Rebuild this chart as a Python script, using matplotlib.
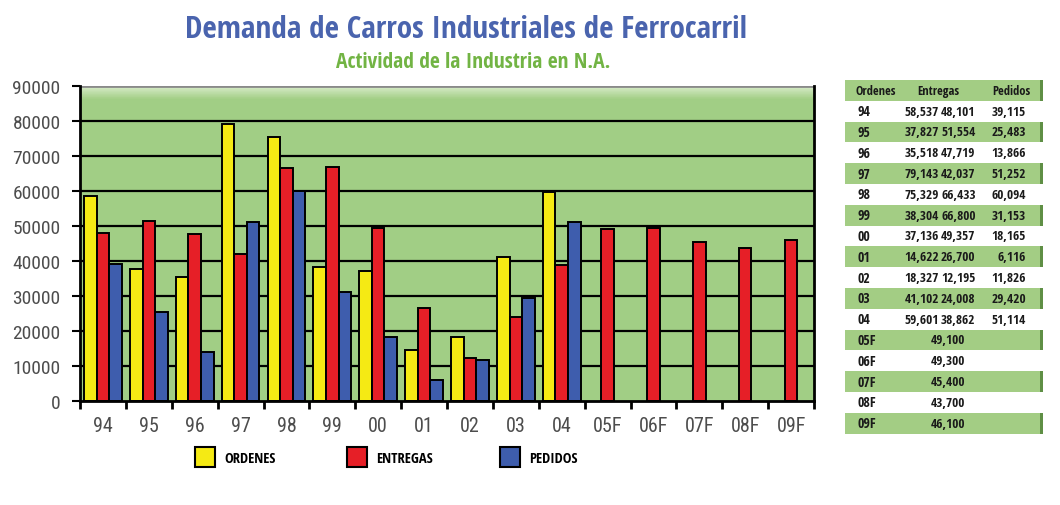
import numpy as np
import matplotlib.pyplot as plt
from matplotlib import font_manager
from matplotlib.textpath import TextToPath
from matplotlib.patches import Rectangle

years = ["94", "95", "96", "97", "98", "99", "00", "01", "02", "03", "04",
         "05F", "06F", "07F", "08F", "09F"]
ordenes = [58537, 37827, 35518, 79143, 75329, 38304, 37136, 14622, 18327, 41102, 59601]
entregas = [48101, 51554, 47719, 42037, 66433, 66800, 49357, 26700, 12195, 24008, 38862,
            49100, 49300, 45400, 43700, 46100]
pedidos = [39115, 25483, 13866, 51252, 60094, 31153, 18165, 6116, 11826, 29420, 51114]
yticks = list(range(0, 90001, 10000))

# narrowest upright face among the ordinary text families
families = ("DejaVu Sans", "Liberation Sans", "Noto Sans", "Roboto", "Open Sans", "Lato", "Inter")
t2p = TextToPath()
best = {}
for f in font_manager.fontManager.ttflist:
    fn = f.fname.lower()
    if not f.name.startswith(families) or "mono" in fn or "italic" in fn or "oblique" in fn:
        continue
    if f.name.startswith("Noto Sans") and f.name not in ("Noto Sans", "Noto Sans Condensed"):
        continue
    try:
        wnum = int(f.weight)
    except (TypeError, ValueError):
        wnum = 700 if "bold" in str(f.weight) else 400
    if 380 <= wnum <= 450:
        kind = "normal"
    elif 600 <= wnum <= 750:
        kind = "bold"
    else:
        continue
    try:
        p = font_manager.FontProperties(fname=f.fname, size=20)
        w = t2p.get_text_width_height_descent("Demanda Pedidos 58,537", p, ismath=False)[0]
    except Exception:
        continue
    if kind not in best or w < best[kind][0]:
        best[kind] = (w, f.fname)

reg = font_manager.FontProperties(fname=best["normal"][1])
bold = font_manager.FontProperties(fname=best["bold"][1])

W, H = 1060, 506
fig = plt.figure(figsize=(W / 100, H / 100), dpi=100)

YELLOW = "#f5ea14"
RED = "#e61f27"
BLUE = "#3e5dad"


def fx(px):
    return px / W


def fy(py):
    return 1 - py / H


def fp(base, size):
    p = base.copy()
    p.set_size(size)
    return p


fig.text(fx(466), fy(30), "Demanda de Carros Industriales de Ferrocarril",
         ha="center", va="center", fontproperties=fp(bold, 22.5), color="#4a64ae")
fig.text(fx(473), fy(63), "Actividad de la Industria en N.A.",
         ha="center", va="center", fontproperties=fp(bold, 15.5), color="#72b444")

# main chart
ax = fig.add_axes([fx(80), fy(402), fx(814) - fx(80), fy(87) - fy(402)])
n = len(years)
x = np.arange(n)
bw = 0.275

grad = np.linspace(0, 1, 200).reshape(-1, 1)
top = np.array([0.84, 0.92, 0.78])
base = np.array([0.635, 0.808, 0.522])
img = base + (top - base) * np.clip(1 - grad * 25, 0, 1)[..., None]
ax.imshow(img, extent=[-0.5, n - 0.5, 0, 90000], aspect="auto", origin="upper", zorder=0)

for t in yticks[1:-1]:
    ax.axhline(t, color="black", lw=1.6, zorder=1)
ax.axhline(90000, color="#8a8a8a", lw=2, zorder=1)

nh = len(ordenes)
ax.bar(x[:nh] - bw, ordenes, bw, color=YELLOW, edgecolor="black", lw=1.4, zorder=2)
ax.bar(x, entregas, bw, color=RED, edgecolor="black", lw=1.4, zorder=2)
ax.bar(x[:nh] + bw, pedidos, bw, color=BLUE, edgecolor="black", lw=1.4, zorder=2)

ax.set_xlim(-0.5, n - 0.5)
ax.set_ylim(0, 90000)
ax.set_yticks(yticks)
ax.set_yticklabels([str(t) for t in yticks], fontproperties=fp(reg, 14), color="#4d4d4d")
ax.set_xticks(x)
ax.set_xticklabels(years, fontproperties=fp(reg, 14.5), color="#4d4d4d")
ax.set_xticks(np.arange(n + 1) - 0.5, minor=True)
ax.tick_params(axis="x", which="major", length=0, pad=11)
ax.tick_params(axis="x", which="minor", length=6, width=2, direction="out")
ax.tick_params(axis="y", length=6, width=1.5, direction="out", pad=8)
for s in ["left", "bottom", "right"]:
    ax.spines[s].set_linewidth(2)
ax.spines["top"].set_visible(False)

# legend
for lx, c, lab in [(195, YELLOW, "ORDENES"), (347, RED, "ENTREGAS"), (500, BLUE, "PEDIDOS")]:
    fig.patches.append(Rectangle((fx(lx), fy(468)), fx(20), fy(448) - fy(468),
                                 transform=fig.transFigure, facecolor=c,
                                 edgecolor="black", lw=1.5))
    fig.text(fx(lx + 29), fy(459), lab, ha="left", va="center",
             fontproperties=fp(bold, 10.5), color="black")

# table
row_h = 20.8
t_top = 81
t_left, t_right = 845, 1043
rows = len(years) + 1
for i in range(rows):
    y0 = t_top + i * row_h
    if i % 2 == 0:
        fig.patches.append(Rectangle((fx(t_left), fy(y0 + row_h)), fx(t_right - t_left),
                                     fy(y0) - fy(y0 + row_h), transform=fig.transFigure,
                                     facecolor="#a3cd84", edgecolor="none"))
        fig.patches.append(Rectangle((fx(t_right - 3), fy(y0 + row_h)), fx(3),
                                     fy(y0) - fy(y0 + row_h), transform=fig.transFigure,
                                     facecolor="#5f8f45", edgecolor="none"))

tk = dict(fontproperties=fp(bold, 9.5), color="#1a1a1a", va="center")
hk = dict(fontproperties=fp(bold, 9), color="#1a1a1a", va="center")
yc = t_top + row_h / 2
fig.text(fx(856), fy(yc), "Ordenes", ha="left", **hk)
fig.text(fx(938), fy(yc), "Entregas", ha="center", **hk)
fig.text(fx(1011), fy(yc), "Pedidos", ha="center", **hk)
for i, yr in enumerate(years):
    yc = t_top + (i + 1.5) * row_h
    fig.text(fx(857), fy(yc), yr, ha="left", fontproperties=fp(bold, 10),
             color="#1a1a1a", va="center")
    if i < nh:
        fig.text(fx(939), fy(yc), f"{ordenes[i]:,}", ha="right", **tk)
        fig.text(fx(941), fy(yc), f"{entregas[i]:,}", ha="left", **tk)
        fig.text(fx(1026), fy(yc), f"{pedidos[i]:,}", ha="right", **tk)
    else:
        fig.text(fx(948), fy(yc), f"{entregas[i]:,}", ha="center", **tk)

fig.savefig("out.png", dpi=100, facecolor="white")
